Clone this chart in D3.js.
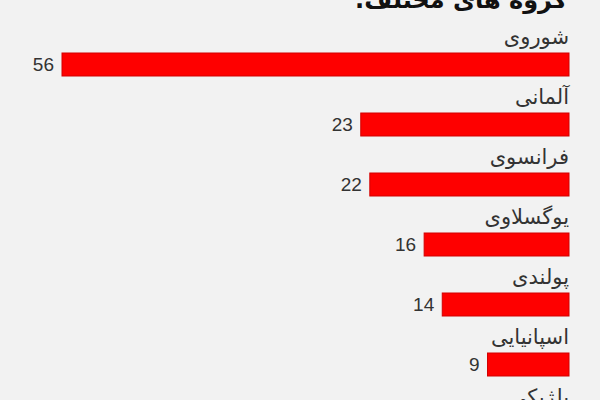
<!DOCTYPE html>
<html>
<head>
<meta charset="utf-8">
<script src="https://cdn.jsdelivr.net/npm/d3@7"></script>
<style>
  html, body { margin: 0; padding: 0; background: #f2f2f2; }
</style>
</head>
<body>
<div id="chart"></div>
<script>
var title = "گروه های مختلف:";
var categories = ["شوروی", "آلمانی", "فرانسوی", "یوگسلاوی", "پولندی", "اسپانیایی", "بلژیکی"];
var values = [56, 23, 22, 16, 14, 9, 8];

var width = 600,
    height = 400;

var svg = d3.select("#chart")
  .append("svg")
  .attr("width", width)
  .attr("height", height)
  .style("background", "#f2f2f2");

// bars grow from the right edge toward the left
var x = d3.scaleLinear()
  .domain([0, 56])
  .range([569, 62]);

var barH = 23, step = 60;
var y = d3.scaleBand()
  .domain(categories)
  .range([53, 53 + step * (categories.length - (step - barH) / step)])
  .paddingInner((step - barH) / step)
  .paddingOuter(0);

var data = categories.map(function(c, i) { return {cat: c, val: values[i]}; });

// title (mostly cut off at the top)
svg.append("text")
  .attr("x", 567)
  .attr("y", 8)
  .attr("direction", "rtl")
  .attr("text-anchor", "start")
  .style("font-family", "DejaVu Sans")
  .style("font-weight", "bold")
  .style("font-size", "24px")
  .style("fill", "#111")
  .text(title);

var row = svg.selectAll(".row")
  .data(data)
  .join("g")
  .attr("class", "row");

row.append("text")
  .attr("x", 569)
  .attr("y", function(d) { return y(d.cat) - 9; })
  .attr("text-anchor", "end")
  .style("font-family", "DejaVu Sans")
  .style("font-size", "21px")
  .style("fill", "#333")
  .text(function(d) { return d.cat; });

row.append("rect")
  .attr("x", function(d) { return x(d.val); })
  .attr("y", function(d) { return y(d.cat); })
  .attr("width", function(d) { return x(0) - x(d.val); })
  .attr("height", y.bandwidth())
  .attr("fill", "#fe0000")
  .attr("stroke", "#d20000")
  .attr("stroke-width", 1);

row.append("text")
  .attr("x", function(d) { return x(d.val) - 8; })
  .attr("y", function(d) { return y(d.cat) + y.bandwidth() / 2; })
  .attr("dy", "0.36em")
  .attr("text-anchor", "end")
  .style("font-family", "Liberation Sans, Arial")
  .style("font-size", "19px")
  .style("fill", "#333")
  .text(function(d) { return d.val; });
</script>
</body>
</html>
